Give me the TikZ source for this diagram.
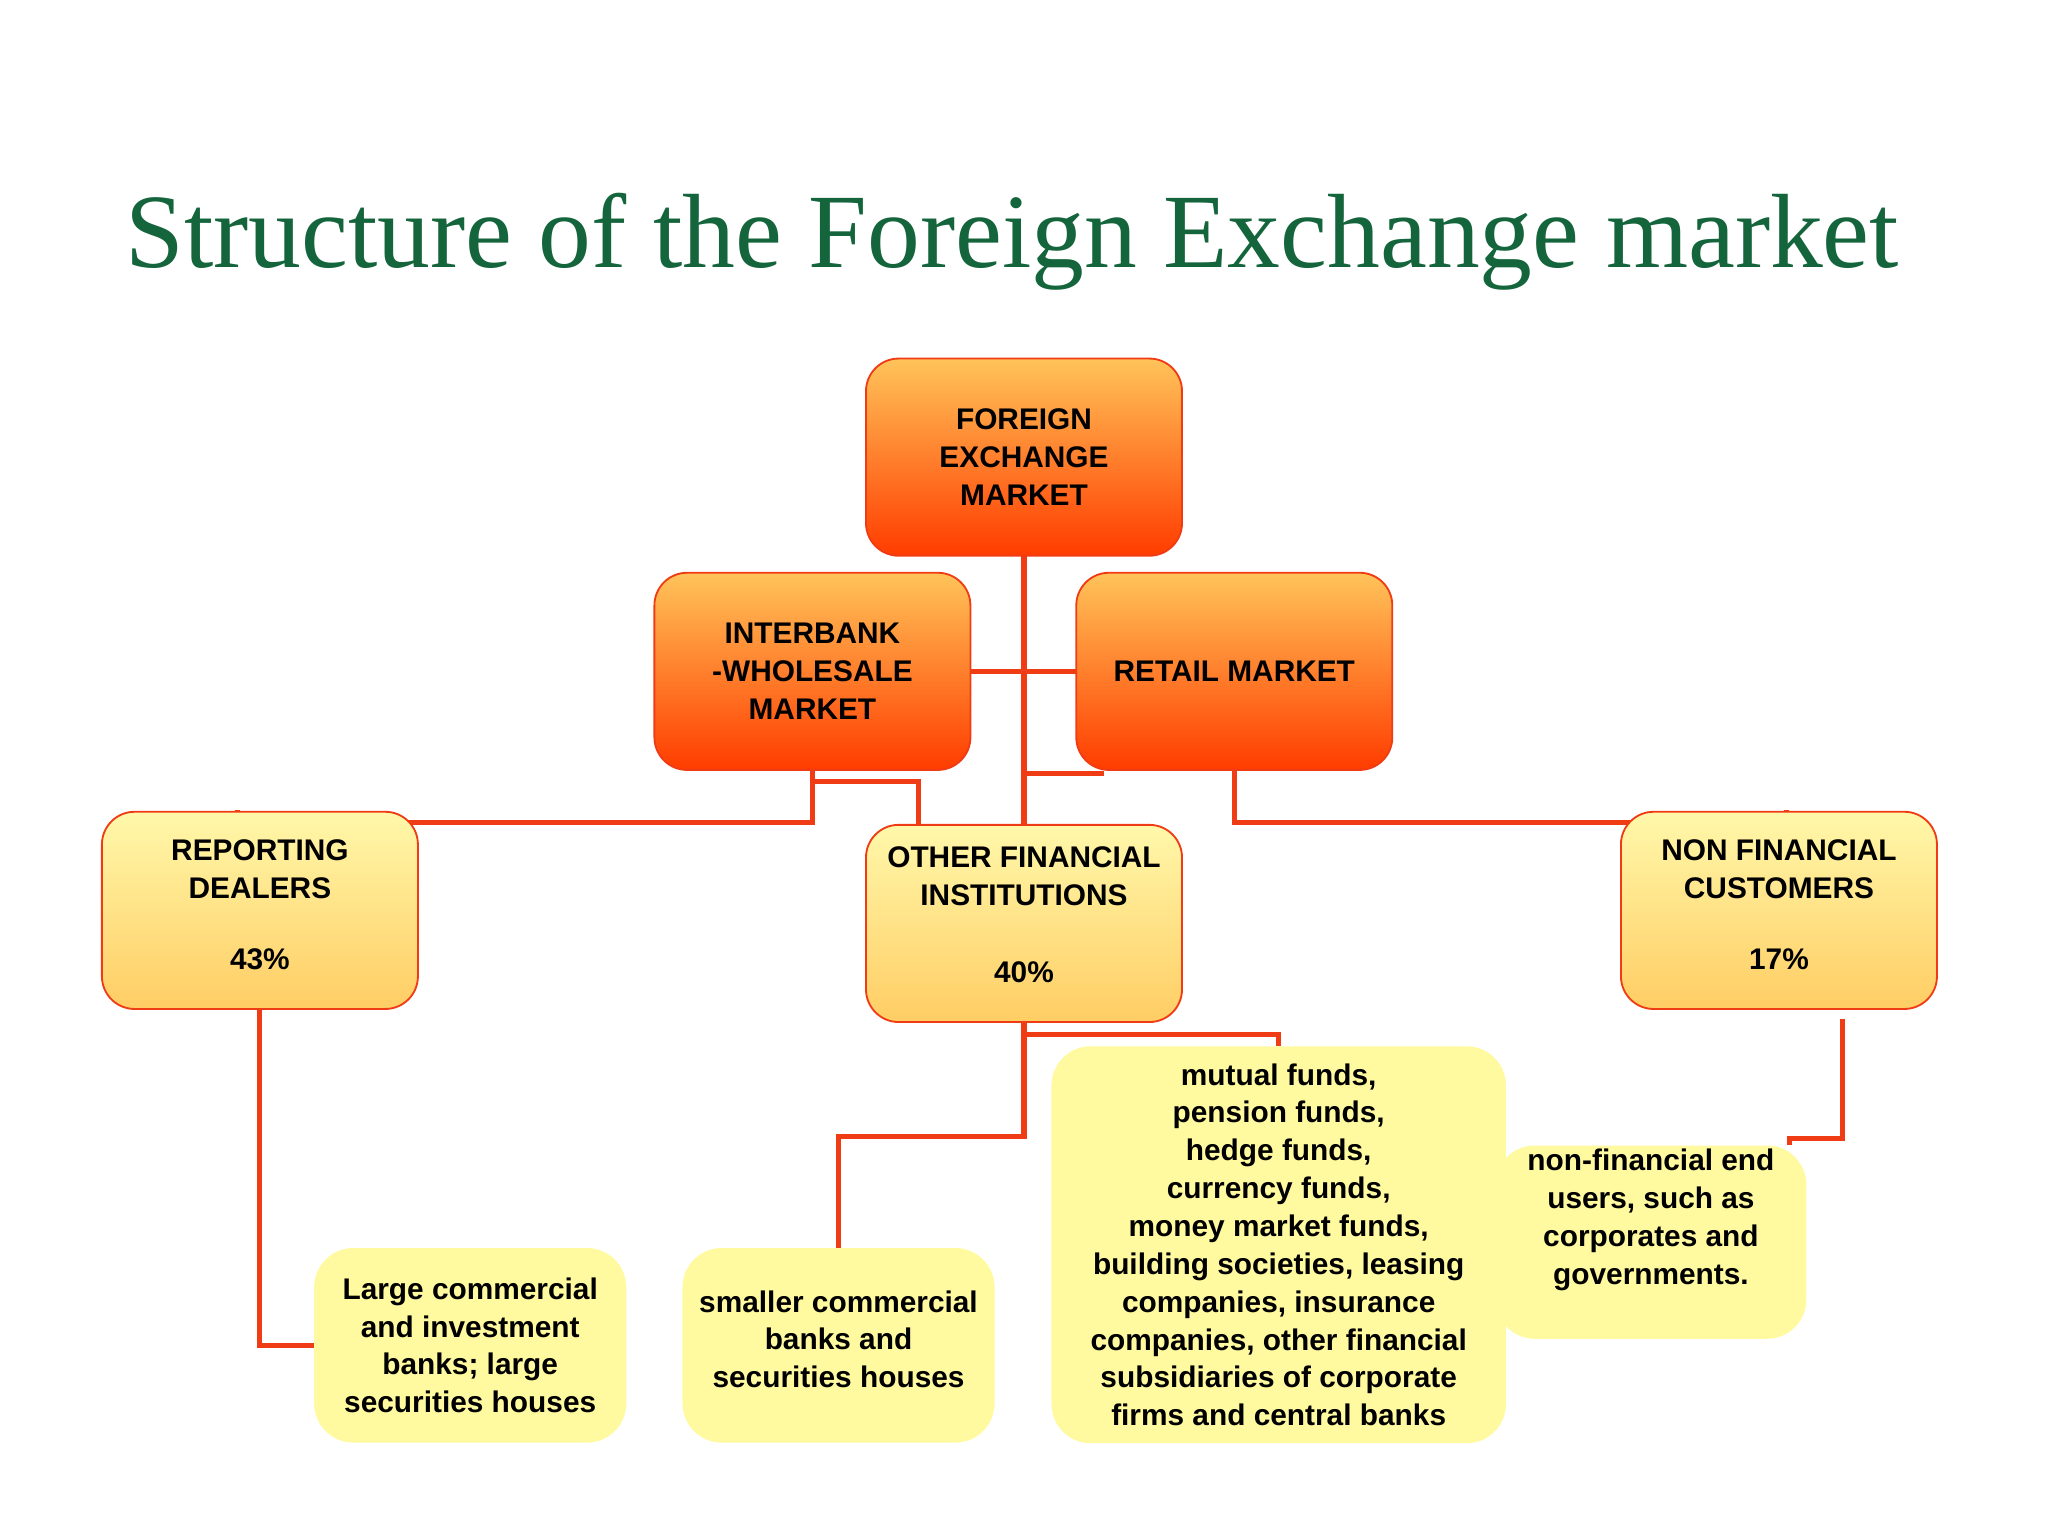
\documentclass[tikz,border=0pt]{standalone}
\usepackage{fontspec}
\setmainfont{Liberation Sans}
\newfontfamily\titlefont{Liberation Serif}
\begin{document}
\definecolor{tgreen}{RGB}{20,100,60}
\definecolor{lnred}{RGB}{240,60,20}
\definecolor{otop}{RGB}{255,195,90}
\definecolor{obot}{RGB}{255,60,0}
\definecolor{ytop}{RGB}{255,248,170}
\definecolor{ybot}{RGB}{255,205,100}
\definecolor{pale}{RGB}{255,250,160}
\begin{tikzpicture}[x=0.02cm,y=-0.02cm,
  box/.style={rounded corners=0.5cm,draw=lnred,line width=0.8pt,minimum width=4.84cm,minimum height=3.02cm,align=center,font=\fontsize{13}{16.5}\selectfont\bfseries},
  obox/.style={box,top color=otop,bottom color=obot},
  ybox/.style={box,top color=ytop,bottom color=ybot},
  pbox/.style={rounded corners=0.6cm,fill=pale,align=center,font=\fontsize{13}{16.5}\selectfont\bfseries},
  ln/.style={draw=lnred,line width=2.2pt}]
\useasboundingbox (0,0) rectangle (1568,1176);
\node[font=\titlefont\fontsize{46}{50}\selectfont,text=tgreen] (title) at (775,185) {Structure of the Foreign Exchange market};
% nodes (placed first for names, drawn later on top via layers order trick)
\coordinate (fx) at (784,350);
\coordinate (ib) at (622,514);
\coordinate (rt) at (945,514);
\coordinate (rd) at (199,697);
\coordinate (of) at (784,707);
\coordinate (nf) at (1362,697);
% connectors
\draw[ln] (784,425) -- (784,640);
\draw[ln] (743,514) -- (824,514);
\draw[ln] (784,592) -- (845,592);
\draw[ln] (622,590) -- (622,630) -- (182,630) -- (182,620);
\draw[ln] (622,598) -- (703,598) -- (703,640) -- (784,640);
\draw[ln] (945,590) -- (945,630) -- (1368,630) -- (1368,620);
\draw[ln] (784,783) -- (784,870) -- (642,870) -- (642,956);
\draw[ln] (784,792) -- (979,792) -- (979,801);
\draw[ln] (199,773) -- (199,1030) -- (241,1030);
\draw[ln] (1411,780) -- (1411,872) -- (1370,872) -- (1370,877);
% boxes
\node[obox] (FX) at (fx) {FOREIGN\\EXCHANGE\\MARKET};
\node[obox] (IB) at (ib) {INTERBANK\\-WHOLESALE\\MARKET};
\node[obox] (RT) at (rt) {RETAIL MARKET};
\node[ybox,text height=2.2cm,text depth=0.4cm] (RD) at (rd) {REPORTING\\DEALERS\\[0.5cm]43\%};
\node[ybox,text height=2.2cm,text depth=0.4cm] (OF) at (of) {OTHER FINANCIAL\\INSTITUTIONS\\[0.6cm]40\%};
\node[ybox,text height=2.2cm,text depth=0.4cm] (NF) at (nf) {NON FINANCIAL\\CUSTOMERS\\[0.5cm]17\%};
\node[pbox,minimum width=4.78cm,minimum height=2.98cm] (LG) at (360,1030) {Large commercial\\and investment\\banks; large\\securities houses};
\node[pbox,minimum width=4.78cm,minimum height=2.98cm,text height=2.0cm,text depth=0.7cm] (SM) at (642,1030) {smaller commercial\\banks and\\securities houses};
\node[pbox,minimum width=6.96cm,minimum height=6.08cm] (MF) at (979,953) {mutual funds,\\pension funds,\\hedge funds,\\currency funds,\\money market funds,\\building societies, leasing\\companies, insurance\\companies, other financial\\subsidiaries of corporate\\firms and central banks};
\node[pbox,minimum width=4.76cm,minimum height=2.96cm,text height=2.0cm,text depth=0.7cm] (NE) at (1264,951) {non-financial end\\users, such as\\corporates and\\governments.};
\end{tikzpicture}
\end{document}
